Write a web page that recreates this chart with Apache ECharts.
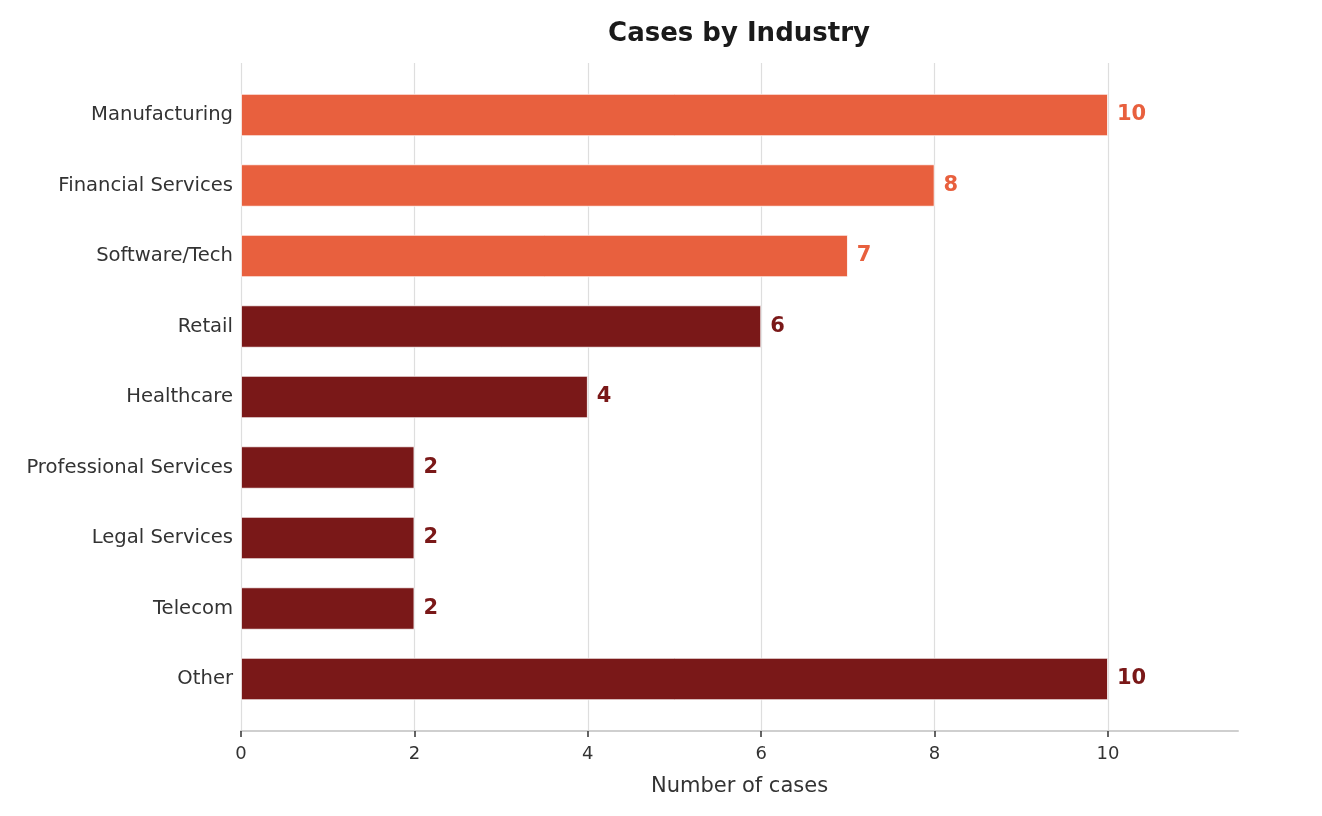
<!DOCTYPE html>
<html>
<head>
<meta charset="utf-8">
<script src="https://cdn.jsdelivr.net/npm/echarts@6/dist/echarts.min.js"></script>
<style>
html, body { margin: 0; padding: 0; background: #fff; }
#chart { width: 1322px; height: 816px; }
</style>
</head>
<body>
<div id="chart"></div>
<script>
// data
var industries = ['Manufacturing', 'Financial Services', 'Software/Tech', 'Retail', 'Healthcare',
    'Professional Services', 'Legal Services', 'Telecom', 'Other'];
var caseCounts = [10, 8, 7, 6, 4, 2, 2, 2, 10];
var highlighted = ['Manufacturing', 'Financial Services', 'Software/Tech'];
var xTicks = [0, 2, 4, 6, 8, 10];

var ORANGE = '#E8603E';
var DARKRED = '#7A1818';
var FONT = 'DejaVu Sans';

var chart = echarts.init(document.getElementById('chart'));

function colorFor(name) {
    return highlighted.indexOf(name) >= 0 ? ORANGE : DARKRED;
}

var barData = industries.map(function (name, i) {
    return {
        value: caseCounts[i],
        itemStyle: { color: colorFor(name) },
        label: { color: colorFor(name) }
    };
});

var option = {
    animation: false,
    textStyle: { fontFamily: FONT },
    title: {
        text: 'Cases by Industry',
        left: 734, top: 16, textAlign: 'center',
        textStyle: { fontFamily: FONT, fontSize: 26, fontWeight: 'bold', color: '#1a1a1a' }
    },
    grid: [
        // frame: gridlines, x axis
        { left: 241, right: 84, top: 63, bottom: 85 },
        // bars
        { left: 241, right: 84, top: 79.75, bottom: 101.75 }
    ],
    xAxis: [{
        gridIndex: 0,
        type: 'value',
        min: 0, max: 11.5, interval: 2,
        name: 'Number of cases',
        nameLocation: 'middle',
        nameGap: 45,
        nameTextStyle: { fontFamily: FONT, fontSize: 21, color: '#333' },
        axisLine: { show: true, lineStyle: { color: '#cfcfcf', width: 2 } },
        axisTick: { show: true, length: 6, lineStyle: { color: '#333', width: 1.5 },
            customValues: xTicks },
        axisLabel: { fontFamily: FONT, fontSize: 18, color: '#333', margin: 14,
            customValues: xTicks },
        splitLine: { show: true, lineStyle: { color: '#dedede', width: 1.2 } }
    }, {
        gridIndex: 1,
        type: 'value',
        min: 0, max: 11.5,
        show: false
    }],
    yAxis: [{
        gridIndex: 0,
        type: 'value',
        min: 0, max: 1,
        show: false
    }, {
        gridIndex: 1,
        type: 'category',
        inverse: true,
        data: industries,
        axisLine: { show: false },
        axisTick: { show: false },
        axisLabel: { fontFamily: FONT, fontSize: 19.6, color: '#333', margin: 8 }
    }],
    series: [{
        type: 'bar',
        xAxisIndex: 1,
        yAxisIndex: 1,
        barWidth: '60%',
        data: barData,
        itemStyle: { borderColor: '#ffffff', borderWidth: 0.8 },
        label: {
            show: true,
            position: 'right',
            distance: 9,
            fontFamily: FONT,
            fontSize: 21,
            fontWeight: 'bold'
        }
    }]
};

chart.setOption(option);
window.onresize = function () { chart.resize(); };
</script>
</body>
</html>
